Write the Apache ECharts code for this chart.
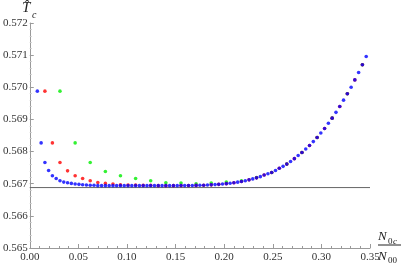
<!DOCTYPE html>
<html><head><meta charset="utf-8">
<script src="https://cdn.jsdelivr.net/npm/echarts@6/dist/echarts.min.js"></script>
<style>html,body{margin:0;padding:0;background:#fff}#c{width:403px;height:268px}</style>
</head><body><div id="c"></div>
<script>
// x-axis tick labels and y-axis tick labels
const xTicks = ['0.00','0.05','0.10','0.15','0.20','0.25','0.30','0.35'];
const yTicks = ['0.565','0.566','0.567','0.568','0.569','0.570','0.571','0.572'];

// blue series
const blueX = [0.0078,0.0117,0.0156,0.0194,0.0233,0.0272,0.0311,0.035,0.0389,0.0428,0.0467,0.0506,0.0544,0.0583,0.0622,0.0661,0.07,0.0739,0.0778,0.0817,0.0856,0.0894,0.0933,0.0972,0.1011,0.105,0.1089,0.1128,0.1167,0.1206,0.1244,0.1283,0.1322,0.1361,0.14,0.1439,0.1478,0.1517,0.1556,0.1594,0.1633,0.1672,0.1711,0.175,0.1789,0.1828,0.1867,0.1906,0.1944,0.1983,0.2022,0.2061,0.21,0.2139,0.2178,0.2217,0.2256,0.2294,0.2333,0.2372,0.2411,0.245,0.2489,0.2528,0.2567,0.2606,0.2644,0.2683,0.2722,0.2761,0.28,0.2839,0.2878,0.2917,0.2956,0.2994,0.3033,0.3072,0.3111,0.315,0.3189,0.3228,0.3267,0.3306,0.3344,0.3383,0.3422,0.3461];
const blueY = [0.56988,0.56827,0.56766,0.56741,0.56725,0.56716,0.56709,0.56705,0.56703,0.56701,0.56699,0.56698,0.56697,0.56696,0.56695,0.56695,
0.56694,0.56694,0.56694,0.56694,0.56694,0.56694,0.56694,0.56694,0.56694,0.56694,0.56694,0.56694,0.56694,0.56694,0.56694,0.56694,0.56694,0.56694,0.56694,0.56694,0.56694,0.56694,
0.566941,0.566942,0.566943,0.566945,0.566947,0.56695,0.566954,0.566959,0.566965,0.566972,0.56698,0.56699,0.567002,0.567015,0.567031,0.567049,0.56707,0.567094,0.56712,0.56715,0.567182,
0.56722,0.56727,0.56731,0.56735,0.56741,0.56748,0.56754,0.56761,0.56769,0.56778,0.56788,0.56797,0.56808,0.56819,0.56831,0.56844,0.56858,0.56872,0.56888,0.56904,0.56922,0.5694,0.5696,0.5698,0.57,0.57023,0.57046,0.5707,0.57096];

// red series
const redX = [0.0156,0.0233,0.0311,0.0389,0.0467,0.0544,0.0622,0.07,0.0778,0.0856,0.0933,0.1011,0.1089,0.1167,0.1244,0.1322,0.14,0.1478,0.1556,0.1633,0.1711,0.1789,0.1867,0.1944,0.2022,0.21,0.2178,0.2256,0.2333,0.2411,0.2489,0.2567,0.2644,0.2722,0.28,0.2878,0.2956,0.3033,0.3111,0.3189,0.3267,0.3344,0.3422];
const redY = [0.56988,0.56827,0.56766,0.5674,0.56725,0.56716,0.56709,0.56704,0.56701,0.56699,0.56697,0.56696,0.56696,0.56695,0.56695,0.56694,0.56694,0.56694,0.566941,0.566943,0.566947,0.566954,0.566965,0.56698,0.567002,0.567031,0.56707,0.56712,0.567182,0.56727,0.56735,0.56748,0.56761,0.56778,0.56797,0.56819,0.56844,0.56872,0.56904,0.5694,0.5698,0.57023,0.5707];

// green series
const greenX = [0.0311,0.0467,0.0622,0.0778,0.0933,0.1089,0.1244,0.14,0.1556,0.1711,0.1867,0.2022,0.2178,0.2333,0.2489,0.2644,0.28,0.2956,0.3111,0.3267,0.3422];
const greenY = [0.56988,0.56827,0.56766,0.56738,0.56725,0.56716,0.56709,0.56703,0.56702,0.567,0.56702,0.56705,0.56709,0.56719,0.56735,0.56761,0.56797,0.56844,0.56904,0.5698,0.5707];

// reference horizontal line
const refLevel = 0.56688;
const xRange = [0, 0.35];

const zip = (a,b) => a.map((v,i)=>[v,b[i]]);
const serif = '"Liberation Serif","DejaVu Serif",serif';
const axisCol = '#9a9a9a';

const chart = echarts.init(document.getElementById('c'), null, {renderer:'canvas'});
chart.setOption({
  animation:false,
  grid:{left:28, right:33, top:23, bottom:20, containLabel:false},
  xAxis:{type:'value', min:0, max:0.35, interval:0.05,
    axisLine:{show:true, onZero:false, lineStyle:{color:axisCol,width:1}},
    axisTick:{show:true, inside:true, length:4, lineStyle:{color:axisCol}},
    minorTick:{show:true, splitNumber:5, length:2, lineStyle:{color:axisCol}},
    splitLine:{show:false},
    axisLabel:{margin:4, fontFamily:serif, fontSize:11, color:'#333',
      formatter:(v)=>{const i=Math.round(v/0.05); return xTicks[i]||'';}}
  },
  yAxis:{type:'value', min:0.565, max:0.572, interval:0.001,
    axisLine:{show:true, onZero:false, lineStyle:{color:axisCol,width:1}},
    axisTick:{show:true, inside:true, length:4, lineStyle:{color:axisCol}},
    minorTick:{show:true, splitNumber:5, length:2, lineStyle:{color:'#c8c8c8'}},
    splitLine:{show:false},
    axisLabel:{margin:2, fontFamily:serif, fontSize:11, color:'#333',
      formatter:(v)=>{const i=Math.round((v-0.565)/0.001); return yTicks[i]||'';}}
  },
  series:[
    {type:'line', data:[[xRange[0],refLevel],[xRange[1],refLevel]], symbol:'none', silent:true,
      lineStyle:{color:'#666', width:1}, z:1},
    {type:'scatter', data:zip(greenX,greenY), symbol:'circle', symbolSize:3.6, itemStyle:{color:'#00ee00'}, z:2},
    {type:'scatter', data:zip(redX,redY), symbol:'circle', symbolSize:3.6, itemStyle:{color:'#ff0000'}, z:3},
    {type:'scatter', data:zip(blueX,blueY), symbol:'circle', symbolSize:3.6, itemStyle:{color:'#0000ff'}, z:4}
  ],
  graphic:[
    {type:'text', left:22, top:1, style:{text:'T\u0302', font:'italic 15px '+serif, fill:'#222'}},
    {type:'text', left:32, top:10, style:{text:'c', font:'italic 10px '+serif, fill:'#222'}},
    {type:'text', left:378, top:230, style:{text:'N', font:'italic 13px '+serif, fill:'#222'}},
    {type:'text', left:388, top:237, style:{text:'0', font:'9px '+serif, fill:'#222'}},
    {type:'text', left:393, top:237, style:{text:'c', font:'italic 9px '+serif, fill:'#222'}},
    {type:'line', shape:{x1:378, y1:245, x2:401, y2:245}, style:{stroke:'#222', lineWidth:1}},
    {type:'text', left:378, top:250, style:{text:'N', font:'italic 13px '+serif, fill:'#222'}},
    {type:'text', left:388, top:256, style:{text:'00', font:'9px '+serif, fill:'#222'}}
  ]
});
</script></body></html>
